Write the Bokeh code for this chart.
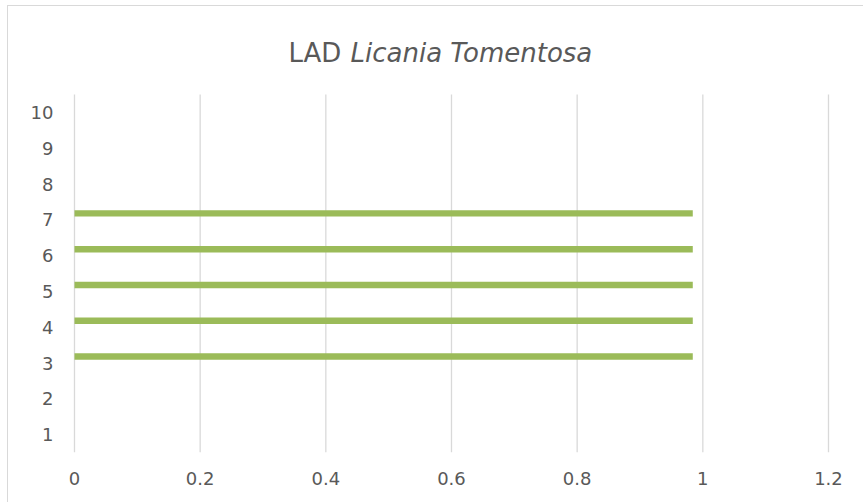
from bokeh.plotting import figure
from bokeh.models import Range1d, FixedTicker, ColumnDataSource, Label
from bokeh.transform import dodge
from bokeh.embed import file_html
from bokeh.resources import INLINE

# Data
categories = [1, 2, 3, 4, 5, 6, 7, 8, 9, 10]
lad_values = [float("nan"), float("nan"), 0.984, 0.984, 0.984, 0.984, 0.984,
              float("nan"), float("nan"), float("nan")]
x_ticks = [0, 0.2, 0.4, 0.6, 0.8, 1.0, 1.2]
x_tick_labels = ["0", "0.2", "0.4", "0.6", "0.8", "1", "1.2"]
title_plain = "LAD "
title_italic = "Licania Tomentosa"

TEXT = "#595959"
GRID = "#d9d9d9"
BAR = "#9bbb59"
FONT = "DejaVu Sans"

# Geometry (pixels)
W, H = 856, 497
FRAME_L, FRAME_R = 62, 32          # relative to figure content
PLOT_TOP_PX = 88                   # top of category area below content top
FRAME_B = 51
x_min, x_max = x_ticks[0], x_ticks[-1]
plot_w = W - FRAME_L - FRAME_R - 8  # pixels used by 0..1.2 (4px slack each side)
pad = 4 * (x_max - x_min) / plot_w
cat_lo, cat_hi = categories[0] - 0.5, categories[-1] + 0.5
cat_px = (H - FRAME_B - PLOT_TOP_PX) / (cat_hi - cat_lo)
y_top = cat_hi + PLOT_TOP_PX / cat_px

src = ColumnDataSource(dict(cat=categories, val=lad_values))

p = figure(width=W, height=H, output_backend="svg", toolbar_location=None,
           x_range=Range1d(x_min - pad, x_max + pad), y_range=Range1d(cat_lo, y_top),
           min_border_left=FRAME_L, min_border_right=FRAME_R,
           min_border_top=0, min_border_bottom=FRAME_B)
p.styles = {"margin-left": "7px", "margin-top": "5px",
            "border-top": "1px solid #d9d9d9", "border-left": "1px solid #d9d9d9"}

# vertical gridlines from the tick list, spanning the category area
p.segment(x0=x_ticks, y0=[cat_lo] * len(x_ticks), x1=x_ticks, y1=[cat_hi] * len(x_ticks),
          line_color=GRID, line_width=1.3)

p.hbar(y=dodge("cat", 0.18), left=0, right="val", height=0.18,
       color=BAR, line_color=None, source=src)

p.outline_line_color = None
p.background_fill_color = "white"
p.border_fill_color = "white"
p.xgrid.grid_line_color = None
p.ygrid.grid_line_color = None

p.xaxis.ticker = FixedTicker(ticks=x_ticks)
p.xaxis.major_label_overrides = {t: l for t, l in zip(x_ticks, x_tick_labels)}
p.yaxis.ticker = FixedTicker(ticks=categories)

for ax in (p.xaxis[0], p.yaxis[0]):
    ax.axis_line_color = None
    ax.major_tick_line_color = None
    ax.minor_tick_line_color = None
    ax.major_tick_out = 0
    ax.major_tick_in = 0
    ax.major_label_text_color = TEXT
    ax.major_label_text_font = FONT
    ax.major_label_text_font_size = "18px"

p.xaxis.major_label_standoff = 19
p.yaxis.major_label_standoff = 17

p.add_layout(Label(x=218, y=400, x_units="screen", y_units="screen", text=title_plain,
                   text_font=FONT, text_font_size="26px", text_color=TEXT,
                   text_baseline="alphabetic"))
p.add_layout(Label(x=280, y=400, x_units="screen", y_units="screen", text=title_italic,
                   text_font=FONT, text_font_style="italic", text_font_size="26px",
                   text_color=TEXT, text_baseline="alphabetic"))

open("out.html", "w").write(file_html(p, INLINE))
